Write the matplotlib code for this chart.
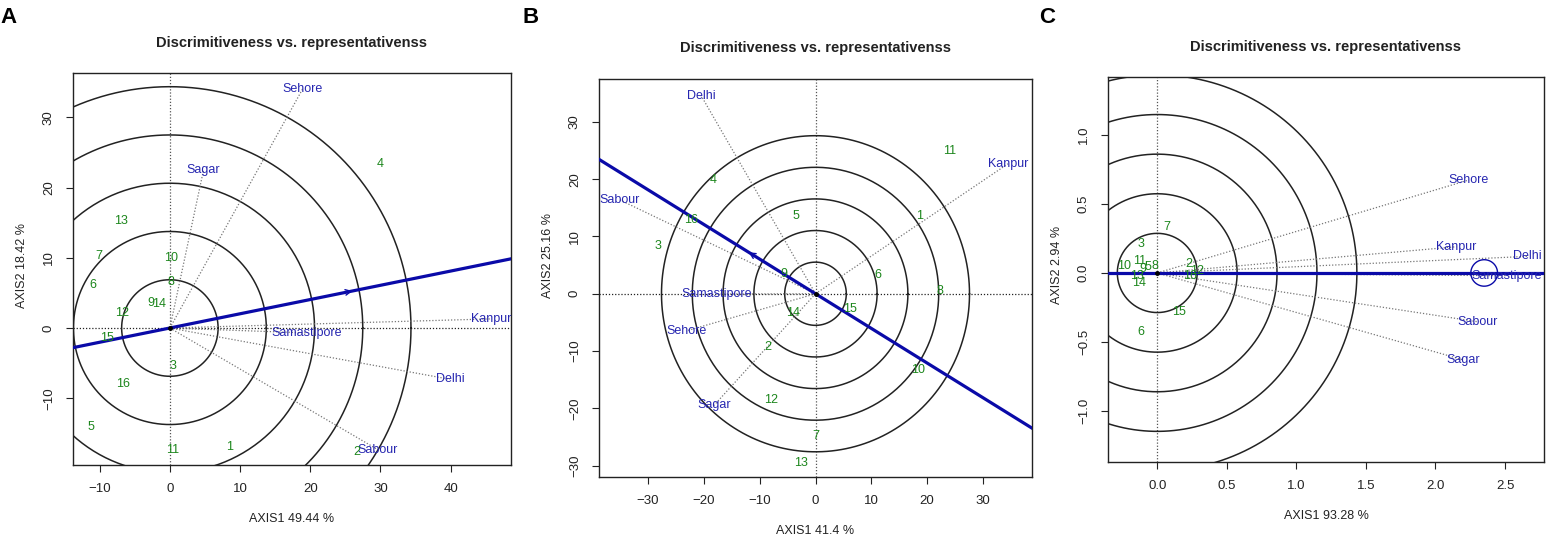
import numpy as np
import matplotlib.pyplot as plt

plt.rcParams["font.family"] = ["Liberation Sans", "DejaVu Sans"]

W, H = 1549, 541

TITLE = "Discrimitiveness vs. representativenss"

# ---- panel A ----
a_env = ["Sehore", "Sagar", "Kanpur", "Samastipore", "Delhi", "Sabour"]
a_env_x = [18.9, 4.8, 45.8, 19.5, 39.9, 29.6]
a_env_y = [34.0, 22.5, 1.3, -0.7, -7.3, -17.3]
a_gen = ["4", "13", "10", "7", "6", "8", "9", "14", "12", "15", "3", "16", "5", "11", "1", "2"]
a_gen_x = [30.0, -7.0, 0.2, -10.1, -10.9, 0.2, -2.7, -1.5, -6.8, -9.0, 0.5, -6.7, -11.3, 0.4, 8.5, 26.6]
a_gen_y = [23.3, 15.3, 9.9, 10.2, 6.1, 6.5, 3.6, 3.4, 2.2, -1.4, -5.4, -7.9, -14.1, -17.4, -16.9, -17.6]
a_radii = [6.87, 13.74, 20.61, 27.48, 34.35]
a_aea = (26.4, 5.35)

# ---- panel B ----
b_env = ["Delhi", "Kanpur", "Sabour", "Samastipore", "Sehore", "Sagar"]
b_env_x = [-20.5, 34.5, -35.1, -17.8, -23.2, -18.2]
b_env_y = [34.6, 22.7, 16.4, -0.05, -6.5, -19.5]
b_gen = ["11", "4", "16", "5", "1", "3", "9", "6", "8", "15", "14", "2", "10", "12", "7", "13"]
b_gen_x = [24.0, -18.4, -22.3, -3.5, 18.6, -28.3, -5.6, 11.2, 22.3, 6.1, -4.1, -8.5, 18.3, -7.9, 0.1, -2.6]
b_gen_y = [25.0, 19.9, 12.8, 13.5, 13.6, 8.4, 3.5, 3.3, 0.4, -2.7, -3.4, -9.3, -13.4, -18.5, -24.9, -29.5]
b_radii = [5.52, 11.04, 16.56, 22.08, 27.6]
b_aea = (-12.4, 7.5)

# ---- panel C ----
c_env = ["Sehore", "Kanpur", "Delhi", "Samastipore", "Sabour", "Sagar"]
c_env_x = [2.24, 2.15, 2.66, 2.51, 2.30, 2.20]
c_env_y = [0.674, 0.19, 0.12, -0.02, -0.353, -0.63]
c_gen = ["7", "3", "10", "11", "9", "5", "8", "13", "14", "2", "16", "12", "15", "6"]
c_gen_x = [0.07, -0.12, -0.24, -0.13, -0.10, -0.067, -0.02, -0.146, -0.13, 0.225, 0.237, 0.285, 0.158, -0.115]
c_gen_y = [0.335, 0.21, 0.053, 0.087, 0.03, 0.046, 0.053, -0.022, -0.075, 0.065, -0.022, 0.017, -0.28, -0.43]
c_radii = [0.287, 0.574, 0.861, 1.148, 1.435]
c_aea = (2.35, 0.0)

GREEN = "#1c861c"
BLUE = "#2626b0"
LINE_BLUE = "#0a0aa8"

panels = [
    dict(letter="A", env=a_env, ex=a_env_x, ey=a_env_y, gen=a_gen, gx=a_gen_x, gy=a_gen_y,
         radii=a_radii, aea=a_aea, xlim=(-13.8, 48.6), ylim=(-19.5, 36.3),
         xticks=[-10, 0, 10, 20, 30, 40], yticks=[-10, 0, 10, 20, 30],
         box=(73, 73, 511, 465), xlab="AXIS1 49.44 %", ylab="AXIS2 18.42 %",
         title_xy=(292, 43), xlab_y=519, ylab_xy=(22, 265), letter_xy=(0, 7),
         arrow=True, aec=None),
    dict(letter="B", env=b_env, ex=b_env_x, ey=b_env_y, gen=b_gen, gx=b_gen_x, gy=b_gen_y,
         radii=b_radii, aea=b_aea, xlim=(-38.8, 38.8), ylim=(-32.0, 37.5),
         xticks=[-30, -20, -10, 0, 10, 20, 30], yticks=[-30, -20, -10, 0, 10, 20, 30],
         box=(599, 79, 1032, 477), xlab="AXIS1 41.4 %", ylab="AXIS2 25.16 %",
         title_xy=(816, 48), xlab_y=531, ylab_xy=(548, 255), letter_xy=(522, 7),
         arrow=True, aec=None),
    dict(letter="C", env=c_env, ex=c_env_x, ey=c_env_y, gen=c_gen, gx=c_gen_x, gy=c_gen_y,
         radii=c_radii, aea=c_aea, xlim=(-0.354, 2.78), ylim=(-1.37, 1.42),
         xticks=[0.0, 0.5, 1.0, 1.5, 2.0, 2.5], yticks=[-1.0, -0.5, 0.0, 0.5, 1.0],
         box=(1108, 77, 1544, 462), xlab="AXIS1 93.28 %", ylab="AXIS2 2.94 %",
         title_xy=(1326, 47), xlab_y=516, ylab_xy=(1057, 265), letter_xy=(1039, 7),
         arrow=False, aec=0.096),
]

fig = plt.figure(figsize=(W / 100, H / 100), dpi=100)

for p in panels:
    x0, y0, x1, y1 = p["box"]
    ax = fig.add_axes([x0 / W, 1 - y1 / H, (x1 - x0) / W, (y1 - y0) / H])
    ax.set_xlim(*p["xlim"])
    ax.set_ylim(*p["ylim"])

    # reference axes through the origin
    ax.axhline(0, color="#222222", ls=(0, (1, 1.5)), lw=0.9, zorder=1)
    ax.axvline(0, color="#555555", ls=(0, (1, 1.5)), lw=0.9, zorder=1)

    # concentric circles
    t = np.linspace(0, 2 * np.pi, 400)
    for r in p["radii"]:
        ax.plot(r * np.cos(t), r * np.sin(t), color="#222222", lw=1.1, zorder=2)

    # environment vectors
    for name, x, y in zip(p["env"], p["ex"], p["ey"]):
        ax.plot([0, x], [0, y], color="#777777", ls=(0, (1, 1.5)), lw=0.9, zorder=2)
        ax.text(x, y, name, color=BLUE, fontsize=9, ha="center", va="center", zorder=5)

    # average environment axis
    ax.axline((0, 0), p["aea"], color=LINE_BLUE, lw=2.3, zorder=3)
    if p["arrow"]:
        ax.annotate("", xy=p["aea"], xytext=(p["aea"][0] * 0.9, p["aea"][1] * 0.9),
                    arrowprops=dict(arrowstyle="->", color=LINE_BLUE, lw=1.0,
                                    mutation_scale=10), zorder=4)
    if p["aec"]:
        ax.plot(p["aea"][0] + p["aec"] * np.cos(t), p["aea"][1] + p["aec"] * np.sin(t),
                color=LINE_BLUE, lw=1.0, zorder=4)

    ax.plot([0], [0], "o", color="black", ms=2.5, zorder=4)

    # genotypes
    for name, x, y in zip(p["gen"], p["gx"], p["gy"]):
        ax.text(x, y, name, color=GREEN, fontsize=9, ha="center", va="center", zorder=5)

    ax.set_xticks(p["xticks"])
    ax.set_yticks(p["yticks"])
    ax.tick_params(direction="out", length=5, labelsize=9.5, colors="#222222", pad=8)
    for lab in ax.get_yticklabels():
        lab.set_rotation(90)
        lab.set_va("center")
    for s in ax.spines.values():
        s.set_linewidth(1.0)
        s.set_color("#222222")

    tx, ty = p["title_xy"]
    fig.text(tx / W, 1 - ty / H, TITLE, ha="center", va="center",
             fontsize=10.5, fontweight="bold", color="#222222")
    fig.text((x0 + x1) / 2 / W, 1 - p["xlab_y"] / H, p["xlab"], ha="center",
             va="center", fontsize=9, color="#222222")
    lx, ly = p["ylab_xy"]
    fig.text(lx / W, 1 - ly / H, p["ylab"], ha="center", va="center",
             rotation=90, fontsize=9, color="#222222")
    px, py = p["letter_xy"]
    fig.text(px / W, 1 - py / H, p["letter"], ha="left", va="top",
             fontsize=16, fontweight="bold", color="black")

fig.savefig("out.png", dpi=100)
